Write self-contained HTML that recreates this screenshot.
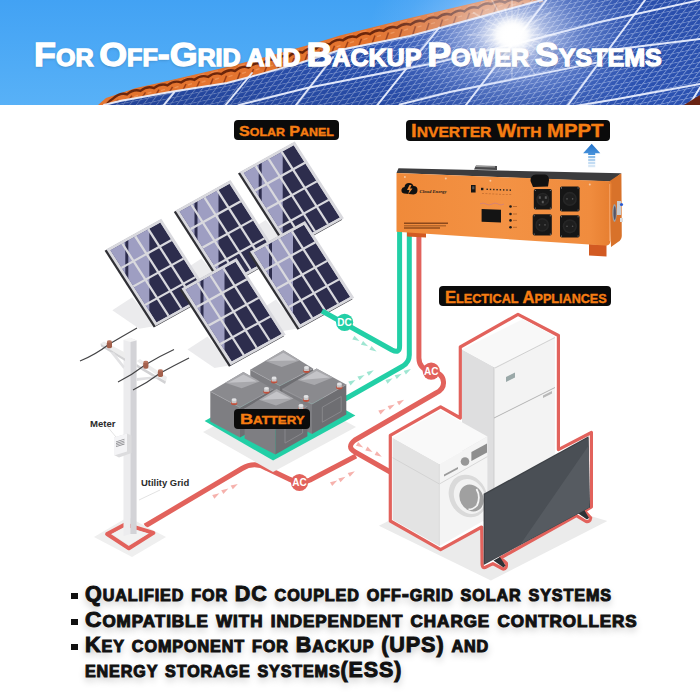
<!DOCTYPE html>
<html><head><meta charset="utf-8">
<style>
html,body{margin:0;padding:0;background:#fff;}
body{width:700px;height:700px;position:relative;overflow:hidden;font-family:"Liberation Sans",sans-serif;}
svg{position:absolute;left:0;top:0;}
.tx{position:absolute;white-space:nowrap;font-weight:bold;transform-origin:0 0;font-family:"Liberation Sans",sans-serif;}
.ti{text-shadow:0 1px 3px rgba(0,0,0,.25);}
.bt{text-shadow:0 4px 7px rgba(0,0,0,.26);}
.box{position:absolute;background:#0b0b0b;border-radius:4px;}
.sq{position:absolute;background:#111;}
.sc{text-transform:uppercase;}
</style></head>
<body>
<svg width="700" height="700" viewBox="0 0 700 700">
<defs>
 <linearGradient id="sky" x1="0" y1="0" x2="0" y2="1">
  <stop offset="0" stop-color="#42a2f4"/><stop offset="1" stop-color="#58b1f7"/>
 </linearGradient>
 <radialGradient id="sun" cx="512" cy="35" r="125" gradientUnits="userSpaceOnUse" gradientTransform="translate(512 35) scale(1.15 0.8) translate(-512 -35)">
  <stop offset="0" stop-color="#ffffff" stop-opacity="1"/>
  <stop offset="0.1" stop-color="#ffffff" stop-opacity="0.95"/>
  <stop offset="0.25" stop-color="#eef2ff" stop-opacity="0.6"/>
  <stop offset="0.5" stop-color="#d4e0ff" stop-opacity="0.28"/>
  <stop offset="0.75" stop-color="#c8d8ff" stop-opacity="0.1"/>
  <stop offset="1" stop-color="#c8d8ff" stop-opacity="0"/>
 </radialGradient>
 <linearGradient id="pshade" x1="0" y1="1" x2="1" y2="0">
  <stop offset="0" stop-color="#0a1a50" stop-opacity="0.35"/>
  <stop offset="0.5" stop-color="#0a1a50" stop-opacity="0.1"/>
  <stop offset="1" stop-color="#0a1a50" stop-opacity="0.15"/>
 </linearGradient>
 <pattern id="cells" width="10" height="10" patternUnits="userSpaceOnUse" patternTransform="matrix(0.8 -0.17 -0.43 0.57 0 0)">
  <rect width="10" height="10" fill="#86a2e2"/>
  <rect x="1.6" y="1.6" width="8.4" height="8.4" fill="#2f58bc"/>
 </pattern>
 <linearGradient id="invfront" x1="0" y1="0" x2="1" y2="0">
  <stop offset="0" stop-color="#f08a3a"/><stop offset="0.5" stop-color="#f39244"/><stop offset="0.9" stop-color="#f08c3e"/><stop offset="1" stop-color="#e67e30"/>
 </linearGradient>
 <linearGradient id="invside" x1="0" y1="0" x2="1" y2="0">
  <stop offset="0" stop-color="#e27a30"/><stop offset="1" stop-color="#d86e28"/>
 </linearGradient>
 <linearGradient id="barrow" x1="0" y1="0" x2="0" y2="1">
  <stop offset="0" stop-color="#1f6fc8"/><stop offset="1" stop-color="#4b95dc"/>
 </linearGradient>
 <radialGradient id="suncore">
  <stop offset="0" stop-color="#fff" stop-opacity="1"/><stop offset="0.45" stop-color="#fff" stop-opacity="0.95"/><stop offset="1" stop-color="#fff" stop-opacity="0"/>
 </radialGradient>
</defs>
<clipPath id="bclip"><rect x="0" y="0" width="700" height="105"/></clipPath>
<g clip-path="url(#bclip)">
<rect x="0" y="0" width="700" height="105" fill="url(#sky)"/>
<polygon points="104.0,105.0 120.0,101.0 170.0,92.0 227.0,83.0 250.0,77.0 300.0,63.0 340.0,50.0 410.0,36.0 440.0,28.0 480.0,17.0 542.0,0.0 700.0,0.0 700.0,105.0" fill="#2850b0"/>
<polygon points="104.0,105.0 120.0,101.0 170.0,92.0 227.0,83.0 250.0,77.0 300.0,63.0 340.0,50.0 410.0,36.0 440.0,28.0 480.0,17.0 542.0,0.0 700.0,0.0 700.0,105.0" fill="url(#cells)"/>
<polygon points="104.0,105.0 120.0,101.0 170.0,92.0 227.0,83.0 250.0,77.0 300.0,63.0 340.0,50.0 410.0,36.0 440.0,28.0 480.0,17.0 542.0,0.0 700.0,0.0 700.0,105.0" fill="url(#pshade)"/>
<polygon points="98.0,105.0 106.0,98.0 136.0,88.0 158.6,83.0 193.0,75.0 227.0,67.0 250.0,61.0 271.0,55.5 314.0,43.5 340.0,35.5 410.0,18.0 480.0,1.5 490.0,-1.0 542.0,0.0 480.0,17.0 440.0,28.0 410.0,36.0 340.0,50.0 300.0,63.0 250.0,77.0 227.0,83.0 170.0,92.0 120.0,101.0 104.0,105.0" fill="#e4742f"/>
<line x1="105.0" y1="115.1" x2="102.0" y2="130.3" stroke="#8a3212" stroke-width="1.5" opacity="0.8"/>
<line x1="107.0" y1="116.1" x2="111.0" y2="114.8" stroke="#f39a5e" stroke-width="1.4" opacity="0.75"/>
<line x1="103.0" y1="104.5" x2="110.0" y2="102.5" stroke="#f0905a" stroke-width="1.2" opacity="0.7"/>
<line x1="118.5" y1="99.7" x2="115.5" y2="102.3" stroke="#8a3212" stroke-width="1.5" opacity="0.8"/>
<line x1="120.5" y1="100.7" x2="124.5" y2="99.4" stroke="#f39a5e" stroke-width="1.4" opacity="0.75"/>
<line x1="116.5" y1="96.7" x2="123.5" y2="94.7" stroke="#f0905a" stroke-width="1.2" opacity="0.7"/>
<line x1="132.0" y1="95.8" x2="129.0" y2="99.4" stroke="#8a3212" stroke-width="1.5" opacity="0.8"/>
<line x1="134.0" y1="96.8" x2="138.0" y2="95.5" stroke="#f39a5e" stroke-width="1.4" opacity="0.75"/>
<line x1="130.0" y1="92.2" x2="137.0" y2="90.2" stroke="#f0905a" stroke-width="1.2" opacity="0.7"/>
<line x1="145.5" y1="92.4" x2="142.5" y2="97.0" stroke="#8a3212" stroke-width="1.5" opacity="0.8"/>
<line x1="147.5" y1="93.4" x2="151.5" y2="92.1" stroke="#f39a5e" stroke-width="1.4" opacity="0.75"/>
<line x1="143.5" y1="88.2" x2="150.5" y2="86.2" stroke="#f0905a" stroke-width="1.2" opacity="0.7"/>
<line x1="159.0" y1="89.6" x2="156.0" y2="94.6" stroke="#8a3212" stroke-width="1.5" opacity="0.8"/>
<line x1="161.0" y1="90.6" x2="165.0" y2="89.3" stroke="#f39a5e" stroke-width="1.4" opacity="0.75"/>
<line x1="157.0" y1="85.2" x2="164.0" y2="83.2" stroke="#f0905a" stroke-width="1.2" opacity="0.7"/>
<line x1="172.5" y1="86.8" x2="169.5" y2="92.2" stroke="#8a3212" stroke-width="1.5" opacity="0.8"/>
<line x1="174.5" y1="87.8" x2="178.5" y2="86.5" stroke="#f39a5e" stroke-width="1.4" opacity="0.75"/>
<line x1="170.5" y1="82.1" x2="177.5" y2="80.1" stroke="#f0905a" stroke-width="1.2" opacity="0.7"/>
<line x1="186.0" y1="84.0" x2="183.0" y2="90.0" stroke="#8a3212" stroke-width="1.5" opacity="0.8"/>
<line x1="188.0" y1="85.0" x2="192.0" y2="83.7" stroke="#f39a5e" stroke-width="1.4" opacity="0.75"/>
<line x1="184.0" y1="79.0" x2="191.0" y2="77.0" stroke="#f0905a" stroke-width="1.2" opacity="0.7"/>
<line x1="199.5" y1="81.3" x2="196.5" y2="87.8" stroke="#8a3212" stroke-width="1.5" opacity="0.8"/>
<line x1="201.5" y1="82.3" x2="205.5" y2="81.0" stroke="#f39a5e" stroke-width="1.4" opacity="0.75"/>
<line x1="197.5" y1="75.8" x2="204.5" y2="73.8" stroke="#f0905a" stroke-width="1.2" opacity="0.7"/>
<line x1="213.0" y1="78.5" x2="210.0" y2="85.7" stroke="#8a3212" stroke-width="1.5" opacity="0.8"/>
<line x1="215.0" y1="79.5" x2="219.0" y2="78.2" stroke="#f39a5e" stroke-width="1.4" opacity="0.75"/>
<line x1="211.0" y1="72.7" x2="218.0" y2="70.7" stroke="#f0905a" stroke-width="1.2" opacity="0.7"/>
<line x1="226.5" y1="75.7" x2="223.5" y2="83.6" stroke="#8a3212" stroke-width="1.5" opacity="0.8"/>
<line x1="228.5" y1="76.7" x2="232.5" y2="75.4" stroke="#f39a5e" stroke-width="1.4" opacity="0.75"/>
<line x1="224.5" y1="69.5" x2="231.5" y2="67.5" stroke="#f0905a" stroke-width="1.2" opacity="0.7"/>
<line x1="240.0" y1="72.5" x2="237.0" y2="80.6" stroke="#8a3212" stroke-width="1.5" opacity="0.8"/>
<line x1="242.0" y1="73.5" x2="246.0" y2="72.2" stroke="#f39a5e" stroke-width="1.4" opacity="0.75"/>
<line x1="238.0" y1="66.1" x2="245.0" y2="64.1" stroke="#f0905a" stroke-width="1.2" opacity="0.7"/>
<line x1="253.5" y1="69.0" x2="250.5" y2="77.1" stroke="#8a3212" stroke-width="1.5" opacity="0.8"/>
<line x1="255.5" y1="70.0" x2="259.5" y2="68.7" stroke="#f39a5e" stroke-width="1.4" opacity="0.75"/>
<line x1="251.5" y1="62.6" x2="258.5" y2="60.6" stroke="#f0905a" stroke-width="1.2" opacity="0.7"/>
<line x1="267.0" y1="65.4" x2="264.0" y2="73.3" stroke="#8a3212" stroke-width="1.5" opacity="0.8"/>
<line x1="269.0" y1="66.4" x2="273.0" y2="65.1" stroke="#f39a5e" stroke-width="1.4" opacity="0.75"/>
<line x1="265.0" y1="59.1" x2="272.0" y2="57.1" stroke="#f0905a" stroke-width="1.2" opacity="0.7"/>
<line x1="280.5" y1="61.7" x2="277.5" y2="69.6" stroke="#8a3212" stroke-width="1.5" opacity="0.8"/>
<line x1="282.5" y1="62.7" x2="286.5" y2="61.4" stroke="#f39a5e" stroke-width="1.4" opacity="0.75"/>
<line x1="278.5" y1="55.4" x2="285.5" y2="53.4" stroke="#f0905a" stroke-width="1.2" opacity="0.7"/>
<line x1="294.0" y1="57.9" x2="291.0" y2="65.8" stroke="#8a3212" stroke-width="1.5" opacity="0.8"/>
<line x1="296.0" y1="58.9" x2="300.0" y2="57.6" stroke="#f39a5e" stroke-width="1.4" opacity="0.75"/>
<line x1="292.0" y1="51.7" x2="299.0" y2="49.7" stroke="#f0905a" stroke-width="1.2" opacity="0.7"/>
<line x1="307.5" y1="54.1" x2="304.5" y2="61.9" stroke="#8a3212" stroke-width="1.5" opacity="0.8"/>
<line x1="309.5" y1="55.1" x2="313.5" y2="53.8" stroke="#f39a5e" stroke-width="1.4" opacity="0.75"/>
<line x1="305.5" y1="47.9" x2="312.5" y2="45.9" stroke="#f0905a" stroke-width="1.2" opacity="0.7"/>
<line x1="321.0" y1="50.1" x2="318.0" y2="57.5" stroke="#8a3212" stroke-width="1.5" opacity="0.8"/>
<line x1="323.0" y1="51.1" x2="327.0" y2="49.8" stroke="#f39a5e" stroke-width="1.4" opacity="0.75"/>
<line x1="319.0" y1="44.1" x2="326.0" y2="42.1" stroke="#f0905a" stroke-width="1.2" opacity="0.7"/>
<line x1="334.5" y1="45.8" x2="331.5" y2="53.1" stroke="#8a3212" stroke-width="1.5" opacity="0.8"/>
<line x1="336.5" y1="46.8" x2="340.5" y2="45.5" stroke="#f39a5e" stroke-width="1.4" opacity="0.75"/>
<line x1="332.5" y1="39.9" x2="339.5" y2="37.9" stroke="#f0905a" stroke-width="1.2" opacity="0.7"/>
<line x1="348.0" y1="41.8" x2="345.0" y2="49.1" stroke="#8a3212" stroke-width="1.5" opacity="0.8"/>
<line x1="350.0" y1="42.8" x2="354.0" y2="41.5" stroke="#f39a5e" stroke-width="1.4" opacity="0.75"/>
<line x1="346.0" y1="36.0" x2="353.0" y2="34.0" stroke="#f0905a" stroke-width="1.2" opacity="0.7"/>
<line x1="361.5" y1="38.7" x2="358.5" y2="46.4" stroke="#8a3212" stroke-width="1.5" opacity="0.8"/>
<line x1="363.5" y1="39.7" x2="367.5" y2="38.4" stroke="#f39a5e" stroke-width="1.4" opacity="0.75"/>
<line x1="359.5" y1="32.6" x2="366.5" y2="30.6" stroke="#f0905a" stroke-width="1.2" opacity="0.7"/>
<line x1="375.0" y1="35.6" x2="372.0" y2="43.7" stroke="#8a3212" stroke-width="1.5" opacity="0.8"/>
<line x1="377.0" y1="36.6" x2="381.0" y2="35.3" stroke="#f39a5e" stroke-width="1.4" opacity="0.75"/>
<line x1="373.0" y1="29.2" x2="380.0" y2="27.2" stroke="#f0905a" stroke-width="1.2" opacity="0.7"/>
<line x1="388.5" y1="32.5" x2="385.5" y2="41.0" stroke="#8a3212" stroke-width="1.5" opacity="0.8"/>
<line x1="390.5" y1="33.5" x2="394.5" y2="32.2" stroke="#f39a5e" stroke-width="1.4" opacity="0.75"/>
<line x1="386.5" y1="25.8" x2="393.5" y2="23.8" stroke="#f0905a" stroke-width="1.2" opacity="0.7"/>
<line x1="402.0" y1="29.3" x2="399.0" y2="38.3" stroke="#8a3212" stroke-width="1.5" opacity="0.8"/>
<line x1="404.0" y1="30.3" x2="408.0" y2="29.0" stroke="#f39a5e" stroke-width="1.4" opacity="0.75"/>
<line x1="400.0" y1="22.4" x2="407.0" y2="20.4" stroke="#f0905a" stroke-width="1.2" opacity="0.7"/>
<line x1="415.5" y1="26.2" x2="412.5" y2="35.6" stroke="#8a3212" stroke-width="1.5" opacity="0.8"/>
<line x1="417.5" y1="27.2" x2="421.5" y2="25.9" stroke="#f39a5e" stroke-width="1.4" opacity="0.75"/>
<line x1="413.5" y1="19.1" x2="420.5" y2="17.1" stroke="#f0905a" stroke-width="1.2" opacity="0.7"/>
<line x1="429.0" y1="22.9" x2="426.0" y2="32.0" stroke="#8a3212" stroke-width="1.5" opacity="0.8"/>
<line x1="431.0" y1="23.9" x2="435.0" y2="22.6" stroke="#f39a5e" stroke-width="1.4" opacity="0.75"/>
<line x1="427.0" y1="15.9" x2="434.0" y2="13.9" stroke="#f0905a" stroke-width="1.2" opacity="0.7"/>
<line x1="442.5" y1="19.5" x2="439.5" y2="28.4" stroke="#8a3212" stroke-width="1.5" opacity="0.8"/>
<line x1="444.5" y1="20.5" x2="448.5" y2="19.2" stroke="#f39a5e" stroke-width="1.4" opacity="0.75"/>
<line x1="440.5" y1="12.7" x2="447.5" y2="10.7" stroke="#f0905a" stroke-width="1.2" opacity="0.7"/>
<line x1="456.0" y1="16.2" x2="453.0" y2="24.7" stroke="#8a3212" stroke-width="1.5" opacity="0.8"/>
<line x1="458.0" y1="17.2" x2="462.0" y2="15.9" stroke="#f39a5e" stroke-width="1.4" opacity="0.75"/>
<line x1="454.0" y1="9.5" x2="461.0" y2="7.5" stroke="#f0905a" stroke-width="1.2" opacity="0.7"/>
<line x1="469.5" y1="12.8" x2="466.5" y2="21.0" stroke="#8a3212" stroke-width="1.5" opacity="0.8"/>
<line x1="471.5" y1="13.8" x2="475.5" y2="12.5" stroke="#f39a5e" stroke-width="1.4" opacity="0.75"/>
<line x1="467.5" y1="6.4" x2="474.5" y2="4.4" stroke="#f0905a" stroke-width="1.2" opacity="0.7"/>
<line x1="483.0" y1="9.4" x2="480.0" y2="17.2" stroke="#8a3212" stroke-width="1.5" opacity="0.8"/>
<line x1="485.0" y1="10.4" x2="489.0" y2="9.1" stroke="#f39a5e" stroke-width="1.4" opacity="0.75"/>
<line x1="481.0" y1="3.2" x2="488.0" y2="1.2" stroke="#f0905a" stroke-width="1.2" opacity="0.7"/>
<line x1="496.5" y1="5.5" x2="493.5" y2="13.5" stroke="#8a3212" stroke-width="1.5" opacity="0.8"/>
<line x1="498.5" y1="6.5" x2="502.5" y2="5.2" stroke="#f39a5e" stroke-width="1.4" opacity="0.75"/>
<line x1="494.5" y1="-0.8" x2="501.5" y2="-2.8" stroke="#f0905a" stroke-width="1.2" opacity="0.7"/>
<line x1="510.0" y1="4.1" x2="507.0" y2="9.8" stroke="#8a3212" stroke-width="1.5" opacity="0.8"/>
<line x1="512.0" y1="5.1" x2="516.0" y2="3.8" stroke="#f39a5e" stroke-width="1.4" opacity="0.75"/>
<line x1="508.0" y1="-0.8" x2="515.0" y2="-2.8" stroke="#f0905a" stroke-width="1.2" opacity="0.7"/>
<line x1="523.5" y1="2.7" x2="520.5" y2="6.1" stroke="#8a3212" stroke-width="1.5" opacity="0.8"/>
<line x1="525.5" y1="3.7" x2="529.5" y2="2.4" stroke="#f39a5e" stroke-width="1.4" opacity="0.75"/>
<line x1="521.5" y1="-0.8" x2="528.5" y2="-2.8" stroke="#f0905a" stroke-width="1.2" opacity="0.7"/>
<line x1="537.0" y1="1.3" x2="534.0" y2="2.4" stroke="#8a3212" stroke-width="1.5" opacity="0.8"/>
<line x1="539.0" y1="2.3" x2="543.0" y2="1.0" stroke="#f39a5e" stroke-width="1.4" opacity="0.75"/>
<line x1="535.0" y1="-0.8" x2="542.0" y2="-2.8" stroke="#f0905a" stroke-width="1.2" opacity="0.7"/>
<path d="M100.0,113.6 Q106.8,101.9 113.5,98.2 Q120.2,92.3 127.0,94.3 Q133.8,88.6 140.5,90.9 Q147.2,85.5 154.0,88.1 Q160.8,82.7 167.5,85.3 Q174.2,79.9 181.0,82.5 Q187.8,77.2 194.5,79.8 Q201.2,74.4 208.0,77.0 Q214.8,71.6 221.5,74.2 Q228.2,68.6 235.0,71.0 Q241.8,65.2 248.5,67.5 Q255.2,61.7 262.0,63.9 Q268.8,58.0 275.5,60.2 Q282.2,54.3 289.0,56.4 Q295.8,50.5 302.5,52.6 Q309.2,46.6 316.0,48.6 Q322.8,42.4 329.5,44.3 Q336.2,38.3 343.0,40.3 Q349.8,34.8 356.5,37.2 Q363.2,31.6 370.0,34.1 Q376.8,28.5 383.5,31.0 Q390.2,25.4 397.0,27.8 Q403.8,22.3 410.5,24.7 Q417.2,19.0 424.0,21.4 Q430.8,15.7 437.5,18.0 Q444.2,12.3 451.0,14.7 Q457.8,9.0 464.5,11.3 Q471.2,5.6 478.0,7.9 Q484.8,2.0 491.5,4.0 Q498.2,-0.7 505.0,2.6 Q511.8,-2.1 518.5,1.2 Q525.2,-3.5 532.0,-0.2" fill="none" stroke="#5e1e08" stroke-width="2.4" opacity="0.9"/>
<polyline points="104.0,105.0 120.0,101.0 170.0,92.0 227.0,83.0 250.0,77.0 300.0,63.0 340.0,50.0 410.0,36.0 440.0,28.0 480.0,17.0 542.0,0.0" stroke="#eef2ff" stroke-width="1.9" fill="none" stroke-linecap="round" opacity="0.92"/>
<polyline points="239.0,105.0 306.9,88.0 434.9,63.0 531.4,40.0 600.0,22.0 700.0,0.0" stroke="#eef2ff" stroke-width="1.9" fill="none" stroke-linecap="round" opacity="0.92"/>
<polyline points="400.0,104.5 450.0,92.0 600.0,62.0" stroke="#eef2ff" stroke-width="1.9" fill="none" stroke-linecap="round" opacity="0.92"/>
<polyline points="606.0,50.5 700.0,39.0" stroke="#eef2ff" stroke-width="1.9" fill="none" stroke-linecap="round" opacity="0.92"/>
<polyline points="575.0,106.0 620.0,98.5 700.0,84.0" stroke="#eef2ff" stroke-width="1.9" fill="none" stroke-linecap="round" opacity="0.92"/>
<polyline points="163.7,105.3 174.0,92.7" stroke="#eef2ff" stroke-width="1.9" fill="none" stroke-linecap="round" opacity="0.92"/>
<polyline points="225.4,105.3 252.0,73.0" stroke="#eef2ff" stroke-width="1.9" fill="none" stroke-linecap="round" opacity="0.92"/>
<polyline points="296.0,105.0 333.0,57.0" stroke="#eef2ff" stroke-width="1.9" fill="none" stroke-linecap="round" opacity="0.92"/>
<polyline points="375.4,107.4 439.4,27.4" stroke="#eef2ff" stroke-width="1.9" fill="none" stroke-linecap="round" opacity="0.92"/>
<polyline points="466.0,105.0 546.4,0.0" stroke="#eef2ff" stroke-width="1.9" fill="none" stroke-linecap="round" opacity="0.92"/>
<polyline points="568.0,105.0 645.0,0.0" stroke="#eef2ff" stroke-width="1.9" fill="none" stroke-linecap="round" opacity="0.92"/>
<polyline points="689.7,104.6 700.0,87.4" stroke="#eef2ff" stroke-width="1.9" fill="none" stroke-linecap="round" opacity="0.92"/>
<rect x="300" y="0" width="400" height="105" fill="url(#sun)"/>
<line x1="512" y1="35" x2="557.0" y2="35.0" stroke="#fff" stroke-width="1.5" opacity="0.3"/>
<line x1="512" y1="35" x2="539.0" y2="42.2" stroke="#fff" stroke-width="1.5" opacity="0.3"/>
<line x1="512" y1="35" x2="551.0" y2="57.5" stroke="#fff" stroke-width="1.5" opacity="0.3"/>
<line x1="512" y1="35" x2="531.8" y2="54.8" stroke="#fff" stroke-width="1.5" opacity="0.3"/>
<line x1="512" y1="35" x2="534.5" y2="74.0" stroke="#fff" stroke-width="1.5" opacity="0.3"/>
<line x1="512" y1="35" x2="519.2" y2="62.0" stroke="#fff" stroke-width="1.5" opacity="0.3"/>
<line x1="512" y1="35" x2="512.0" y2="80.0" stroke="#fff" stroke-width="1.5" opacity="0.3"/>
<line x1="512" y1="35" x2="504.8" y2="62.0" stroke="#fff" stroke-width="1.5" opacity="0.3"/>
<line x1="512" y1="35" x2="489.5" y2="74.0" stroke="#fff" stroke-width="1.5" opacity="0.3"/>
<line x1="512" y1="35" x2="492.2" y2="54.8" stroke="#fff" stroke-width="1.5" opacity="0.3"/>
<line x1="512" y1="35" x2="473.0" y2="57.5" stroke="#fff" stroke-width="1.5" opacity="0.3"/>
<line x1="512" y1="35" x2="485.0" y2="42.2" stroke="#fff" stroke-width="1.5" opacity="0.3"/>
<line x1="512" y1="35" x2="467.0" y2="35.0" stroke="#fff" stroke-width="1.5" opacity="0.3"/>
<line x1="512" y1="35" x2="485.0" y2="27.8" stroke="#fff" stroke-width="1.5" opacity="0.3"/>
<line x1="512" y1="35" x2="473.0" y2="12.5" stroke="#fff" stroke-width="1.5" opacity="0.3"/>
<line x1="512" y1="35" x2="492.2" y2="15.2" stroke="#fff" stroke-width="1.5" opacity="0.3"/>
<line x1="512" y1="35" x2="489.5" y2="-4.0" stroke="#fff" stroke-width="1.5" opacity="0.3"/>
<line x1="512" y1="35" x2="504.8" y2="8.0" stroke="#fff" stroke-width="1.5" opacity="0.3"/>
<line x1="512" y1="35" x2="512.0" y2="-10.0" stroke="#fff" stroke-width="1.5" opacity="0.3"/>
<line x1="512" y1="35" x2="519.2" y2="8.0" stroke="#fff" stroke-width="1.5" opacity="0.3"/>
<line x1="512" y1="35" x2="534.5" y2="-4.0" stroke="#fff" stroke-width="1.5" opacity="0.3"/>
<line x1="512" y1="35" x2="531.8" y2="15.2" stroke="#fff" stroke-width="1.5" opacity="0.3"/>
<line x1="512" y1="35" x2="551.0" y2="12.5" stroke="#fff" stroke-width="1.5" opacity="0.3"/>
<line x1="512" y1="35" x2="539.0" y2="27.8" stroke="#fff" stroke-width="1.5" opacity="0.3"/>
<circle cx="512" cy="35" r="20" fill="url(#suncore)"/>
<polygon points="684,105 700,95 700,105" fill="#6a2414"/>
</g>
<polygon points="265.7,220.0 288.9,248.8 272.7,251.5 245.7,233.0" fill="#ebebed"/>
<polygon points="201.5,258.5 224.7,287.3 208.5,290.0 181.5,271.5" fill="#ebebed"/>
<polygon points="132.3,297.3 155.5,326.1 139.3,328.8 112.3,310.3" fill="#ebebed"/>
<polygon points="276.0,299.5 299.2,328.3 283.0,331.0 256.0,312.5" fill="#ebebed"/>
<polygon points="207.5,336.5 230.7,365.3 214.5,368.0 187.5,349.5" fill="#ebebed"/>
<polygon points="238.0,173.5 293.0,143.0 342.2,219.8 287.2,250.3" fill="#303036"/>
<polygon points="239.7,172.0 294.7,141.5 343.9,218.3 288.9,248.8" fill="#d9d9de"/>
<clipPath id="pc0"><polygon points="243.7,172.9 293.7,145.2 339.9,217.4 289.9,245.1"/></clipPath>
<g clip-path="url(#pc0)">
<polygon points="243.7,172.9 293.7,145.2 339.9,217.4 289.9,245.1" fill="#2d2d4d"/>
<rect x="229.7" y="132.0" width="53.0" height="140" fill="#9e9ec2"/>
<rect x="258.7" y="132.0" width="3" height="72.0" fill="#2d2d4d"/>
</g>
<polygon points="254.7,166.8 256.7,165.7 302.9,237.9 300.9,239.0" fill="#d9d9de"/>
<polygon points="267.7,159.6 269.7,158.5 315.9,230.7 313.9,231.8" fill="#d9d9de"/>
<polygon points="280.7,152.4 282.7,151.3 328.9,223.5 326.9,224.6" fill="#d9d9de"/>
<polygon points="254.3,189.6 304.4,161.8 305.6,163.7 255.5,191.4" fill="#d9d9de"/>
<polygon points="266.2,208.1 316.2,180.4 317.4,182.2 267.4,209.9" fill="#d9d9de"/>
<polygon points="278.0,226.6 328.1,198.9 329.3,200.7 279.2,228.5" fill="#d9d9de"/>
<polygon points="173.8,212.0 228.8,181.5 278.0,258.3 223.0,288.8" fill="#303036"/>
<polygon points="175.5,210.5 230.5,180.0 279.7,256.8 224.7,287.3" fill="#d9d9de"/>
<clipPath id="pc1"><polygon points="179.5,211.4 229.5,183.7 275.7,255.9 225.7,283.6"/></clipPath>
<g clip-path="url(#pc1)">
<polygon points="179.5,211.4 229.5,183.7 275.7,255.9 225.7,283.6" fill="#2d2d4d"/>
<rect x="165.5" y="170.5" width="53.0" height="140" fill="#9e9ec2"/>
<rect x="194.5" y="170.5" width="3" height="72.0" fill="#2d2d4d"/>
</g>
<polygon points="190.5,205.3 192.5,204.2 238.7,276.4 236.7,277.5" fill="#d9d9de"/>
<polygon points="203.5,198.1 205.5,197.0 251.7,269.2 249.7,270.3" fill="#d9d9de"/>
<polygon points="216.5,190.9 218.5,189.8 264.7,262.0 262.7,263.1" fill="#d9d9de"/>
<polygon points="190.1,228.1 240.2,200.3 241.4,202.2 191.3,229.9" fill="#d9d9de"/>
<polygon points="202.0,246.6 252.0,218.9 253.2,220.7 203.2,248.4" fill="#d9d9de"/>
<polygon points="213.8,265.1 263.9,237.4 265.1,239.2 215.0,267.0" fill="#d9d9de"/>
<polygon points="104.6,250.8 159.6,220.3 208.8,297.1 153.8,327.6" fill="#303036"/>
<polygon points="106.3,249.3 161.3,218.8 210.5,295.6 155.5,326.1" fill="#d9d9de"/>
<clipPath id="pc2"><polygon points="110.3,250.2 160.3,222.5 206.5,294.7 156.5,322.4"/></clipPath>
<g clip-path="url(#pc2)">
<polygon points="110.3,250.2 160.3,222.5 206.5,294.7 156.5,322.4" fill="#2d2d4d"/>
<rect x="96.3" y="209.3" width="53.0" height="140" fill="#9e9ec2"/>
<rect x="125.3" y="209.3" width="3" height="72.0" fill="#2d2d4d"/>
</g>
<polygon points="121.3,244.1 123.3,243.0 169.5,315.2 167.5,316.3" fill="#d9d9de"/>
<polygon points="134.3,236.9 136.3,235.8 182.5,308.0 180.5,309.1" fill="#d9d9de"/>
<polygon points="147.3,229.7 149.3,228.6 195.5,300.8 193.5,301.9" fill="#d9d9de"/>
<polygon points="120.9,266.9 171.0,239.1 172.2,241.0 122.1,268.7" fill="#d9d9de"/>
<polygon points="132.8,285.4 182.8,257.7 184.0,259.5 134.0,287.2" fill="#d9d9de"/>
<polygon points="144.6,303.9 194.7,276.2 195.9,278.0 145.8,305.8" fill="#d9d9de"/>
<polygon points="248.3,253.0 303.3,222.5 352.5,299.3 297.5,329.8" fill="#303036"/>
<polygon points="250.0,251.5 305.0,221.0 354.2,297.8 299.2,328.3" fill="#d9d9de"/>
<clipPath id="pc3"><polygon points="254.0,252.4 304.0,224.7 350.2,296.9 300.2,324.6"/></clipPath>
<g clip-path="url(#pc3)">
<polygon points="254.0,252.4 304.0,224.7 350.2,296.9 300.2,324.6" fill="#2d2d4d"/>
<rect x="240.0" y="211.5" width="53.0" height="140" fill="#9e9ec2"/>
<rect x="269.0" y="211.5" width="3" height="72.0" fill="#2d2d4d"/>
</g>
<polygon points="265.0,246.3 267.0,245.2 313.2,317.4 311.2,318.5" fill="#d9d9de"/>
<polygon points="278.0,239.1 280.0,238.0 326.2,310.2 324.2,311.3" fill="#d9d9de"/>
<polygon points="291.0,231.9 293.0,230.8 339.2,303.0 337.2,304.1" fill="#d9d9de"/>
<polygon points="264.6,269.1 314.7,241.3 315.9,243.2 265.8,270.9" fill="#d9d9de"/>
<polygon points="276.5,287.6 326.5,259.9 327.7,261.7 277.7,289.4" fill="#d9d9de"/>
<polygon points="288.3,306.1 338.4,278.4 339.6,280.2 289.5,308.0" fill="#d9d9de"/>
<polygon points="179.8,290.0 234.8,259.5 284.0,336.3 229.0,366.8" fill="#303036"/>
<polygon points="181.5,288.5 236.5,258.0 285.7,334.8 230.7,365.3" fill="#d9d9de"/>
<clipPath id="pc4"><polygon points="185.5,289.4 235.5,261.7 281.7,333.9 231.7,361.6"/></clipPath>
<g clip-path="url(#pc4)">
<polygon points="185.5,289.4 235.5,261.7 281.7,333.9 231.7,361.6" fill="#2d2d4d"/>
<rect x="171.5" y="248.5" width="53.0" height="140" fill="#9e9ec2"/>
<rect x="200.5" y="248.5" width="3" height="72.0" fill="#2d2d4d"/>
</g>
<polygon points="196.5,283.3 198.5,282.2 244.7,354.4 242.7,355.5" fill="#d9d9de"/>
<polygon points="209.5,276.1 211.5,275.0 257.7,347.2 255.7,348.3" fill="#d9d9de"/>
<polygon points="222.5,268.9 224.5,267.8 270.7,340.0 268.7,341.1" fill="#d9d9de"/>
<polygon points="196.1,306.1 246.2,278.3 247.4,280.2 197.3,307.9" fill="#d9d9de"/>
<polygon points="208.0,324.6 258.0,296.9 259.2,298.7 209.2,326.4" fill="#d9d9de"/>
<polygon points="219.8,343.1 269.9,315.4 271.1,317.2 221.0,345.0" fill="#d9d9de"/>
<path d="M322,311 L392,350 Q399.6,354 399.6,346 L399.6,230" fill="none" stroke="#22cfa6" stroke-width="5" stroke-linejoin="round"/>
<path d="M345,399 L403,366 Q409.3,362 409.3,355 L409.3,230" fill="none" stroke="#22cfa6" stroke-width="5" stroke-linejoin="round"/>
<path d="M418.9,230 L418.9,358 Q419,369 431,371 Q443,373 443.5,382 Q444,389 436,393 L355,440 Q346,447 355,452 L392,473" fill="none" stroke="#e2625c" stroke-width="5" stroke-linejoin="round"/>
<path d="M145,526 L242,468.5 Q254.5,461 267,468.5 L289,479 Q299.5,485 310,480 L356,456" fill="none" stroke="#e2625c" stroke-width="5" stroke-linejoin="round"/>
<polygon points="359.5,341.1 352.3,339.5 354.5,335.7" fill="#9fe6d2"/>
<polygon points="368.1,346.3 360.9,344.7 363.1,340.9" fill="#9fe6d2"/>
<polygon points="376.6,351.4 369.4,349.8 371.6,346.0" fill="#9fe6d2"/>
<polygon points="355.5,380.0 350.5,385.4 348.3,381.6" fill="#9fe6d2"/>
<polygon points="364.6,374.9 359.6,380.3 357.4,376.5" fill="#9fe6d2"/>
<polygon points="373.8,370.3 368.8,375.7 366.6,371.9" fill="#9fe6d2"/>
<polygon points="392.6,378.3 387.6,383.7 385.4,379.9" fill="#9fe6d2"/>
<polygon points="401.8,373.7 396.8,379.1 394.6,375.3" fill="#9fe6d2"/>
<polygon points="410.9,369.1 405.9,374.5 403.7,370.7" fill="#9fe6d2"/>
<polygon points="219.4,493.3 214.4,498.7 212.2,494.9" fill="#f6b2ad"/>
<polygon points="228.4,488.6 223.4,494.0 221.2,490.2" fill="#f6b2ad"/>
<polygon points="237.8,483.9 232.8,489.3 230.6,485.5" fill="#f6b2ad"/>
<polygon points="337.2,480.6 332.2,486.0 330.0,482.2" fill="#f6b2ad"/>
<polygon points="345.5,476.8 340.5,482.2 338.3,478.4" fill="#f6b2ad"/>
<polygon points="354.9,471.3 349.9,476.7 347.7,472.9" fill="#f6b2ad"/>
<polygon points="385.5,409.0 380.5,414.4 378.3,410.6" fill="#f6b2ad"/>
<polygon points="394.8,404.4 389.8,409.8 387.6,406.0" fill="#f6b2ad"/>
<polygon points="404.1,399.8 399.1,405.2 396.9,401.4" fill="#f6b2ad"/>
<polygon points="363.2,447.4 356.0,445.8 358.2,442.0" fill="#f6b2ad"/>
<polygon points="372.5,452.0 365.3,450.4 367.5,446.6" fill="#f6b2ad"/>
<polygon points="381.8,456.7 374.6,455.1 376.8,451.3" fill="#f6b2ad"/>
<circle cx="344.6" cy="322.3" r="8.6" fill="#22cfa6"/>
<text x="344.6" y="325.90000000000003" font-family="Liberation Sans" font-weight="bold" font-size="10" fill="#fff" text-anchor="middle">DC</text>
<circle cx="431.2" cy="371.1" r="8.6" fill="#e2625c"/>
<text x="431.2" y="374.70000000000005" font-family="Liberation Sans" font-weight="bold" font-size="10" fill="#fff" text-anchor="middle">AC</text>
<circle cx="299.5" cy="482.5" r="8.6" fill="#e2625c"/>
<text x="299.5" y="486.1" font-family="Liberation Sans" font-weight="bold" font-size="10" fill="#fff" text-anchor="middle">AC</text>
<polygon points="203,432 273,472 356,427 285,388" fill="#ececec"/>
<polygon points="204.6,421 285,376 355.4,415.4 273.1,460.5" fill="#22cfa6"/>
<polygon points="250.3,369.7 280.0,385.7 280.0,415.7 250.3,399.7" fill="#7e7e82"/>
<polygon points="280.0,385.7 313.1,368.6 313.1,398.6 280.0,415.7" fill="#6e6e72"/>
<polygon points="250.3,369.7 283.4,350.3 313.1,368.6 280.0,385.7" fill="#8a8a8e"/>
<polygon points="265.2,361.0 283.4,350.3 299.7,360.4 281.7,367.1" fill="#a8a8ac"/>
<polygon points="268.2,361.0 283.4,352.8 296.7,360.4" fill="#c4c4c8"/>
<polyline points="250.3,369.7 280.0,385.7 313.1,368.6" fill="none" stroke="#a2a2a6" stroke-width="0.7"/>
<polygon points="289.9,389.6 308.1,380.2 308.1,395.2 289.9,404.6" fill="none" stroke="#8e8e92" stroke-width="0.8"/>
<ellipse cx="274.1" cy="381.5" rx="3.2" ry="1.9" fill="#c0503c"/>
<rect x="271.7" y="378.0" width="4.8" height="3.5" fill="#c6c6c8"/>
<ellipse cx="274.1" cy="378.0" rx="2.4" ry="1.4" fill="#e2e2e4"/>
<ellipse cx="306.5" cy="371.0" rx="3.2" ry="1.9" fill="#c0503c"/>
<rect x="304.1" y="367.5" width="4.8" height="3.5" fill="#c6c6c8"/>
<ellipse cx="306.5" cy="367.5" rx="2.4" ry="1.4" fill="#e2e2e4"/>
<polygon points="210.3,391.4 240.0,407.4 240.0,437.4 210.3,421.4" fill="#7e7e82"/>
<polygon points="240.0,407.4 273.1,389.1 273.1,419.1 240.0,437.4" fill="#6e6e72"/>
<polygon points="210.3,391.4 243.4,372.0 273.1,389.1 240.0,407.4" fill="#8a8a8e"/>
<polygon points="225.2,382.7 243.4,372.0 259.7,381.4 241.7,388.2" fill="#a8a8ac"/>
<polygon points="228.2,382.7 243.4,374.5 256.7,381.4" fill="#c4c4c8"/>
<polyline points="210.3,391.4 240.0,407.4 273.1,389.1" fill="none" stroke="#a2a2a6" stroke-width="0.7"/>
<polygon points="249.9,410.9 268.1,400.8 268.1,415.8 249.9,425.9" fill="none" stroke="#8e8e92" stroke-width="0.8"/>
<ellipse cx="234.1" cy="403.2" rx="3.2" ry="1.9" fill="#c0503c"/>
<rect x="231.7" y="399.7" width="4.8" height="3.5" fill="#c6c6c8"/>
<ellipse cx="234.1" cy="399.7" rx="2.4" ry="1.4" fill="#e2e2e4"/>
<ellipse cx="266.5" cy="391.8" rx="3.2" ry="1.9" fill="#c0503c"/>
<rect x="264.1" y="388.3" width="4.8" height="3.5" fill="#c6c6c8"/>
<ellipse cx="266.5" cy="388.3" rx="2.4" ry="1.4" fill="#e2e2e4"/>
<polygon points="282.3,389.1 312.0,404.0 312.0,434.0 282.3,419.1" fill="#7e7e82"/>
<polygon points="312.0,404.0 346.3,384.6 346.3,414.6 312.0,434.0" fill="#6e6e72"/>
<polygon points="282.3,389.1 316.6,368.6 346.3,384.6 312.0,404.0" fill="#8a8a8e"/>
<polygon points="297.7,379.9 316.6,368.6 332.9,377.4 314.3,384.9" fill="#a8a8ac"/>
<polygon points="300.7,379.9 316.6,371.1 329.9,377.4" fill="#c4c4c8"/>
<polyline points="282.3,389.1 312.0,404.0 346.3,384.6" fill="none" stroke="#a2a2a6" stroke-width="0.7"/>
<polygon points="322.3,407.2 341.2,396.5 341.2,411.5 322.3,422.2" fill="none" stroke="#8e8e92" stroke-width="0.8"/>
<ellipse cx="306.1" cy="400.0" rx="3.2" ry="1.9" fill="#c0503c"/>
<rect x="303.7" y="396.5" width="4.8" height="3.5" fill="#c6c6c8"/>
<ellipse cx="306.1" cy="396.5" rx="2.4" ry="1.4" fill="#e2e2e4"/>
<ellipse cx="339.4" cy="387.5" rx="3.2" ry="1.9" fill="#c0503c"/>
<rect x="337.0" y="384.0" width="4.8" height="3.5" fill="#c6c6c8"/>
<ellipse cx="339.4" cy="384.0" rx="2.4" ry="1.4" fill="#e2e2e4"/>
<polygon points="244.6,408.6 275.4,424.6 275.4,454.6 244.6,438.6" fill="#7e7e82"/>
<polygon points="275.4,424.6 307.4,406.3 307.4,436.3 275.4,454.6" fill="#6e6e72"/>
<polygon points="244.6,408.6 276.6,389.1 307.4,406.3 275.4,424.6" fill="#8a8a8e"/>
<polygon points="259.0,399.8 276.6,389.1 293.5,398.6 276.0,405.5" fill="#a8a8ac"/>
<polygon points="262.0,399.8 276.6,391.6 290.5,398.6" fill="#c4c4c8"/>
<polyline points="244.6,408.6 275.4,424.6 307.4,406.3" fill="none" stroke="#a2a2a6" stroke-width="0.7"/>
<polygon points="285.0,428.1 302.6,418.0 302.6,433.0 285.0,443.1" fill="none" stroke="#8e8e92" stroke-width="0.8"/>
<ellipse cx="269.2" cy="420.4" rx="3.2" ry="1.9" fill="#c0503c"/>
<rect x="266.8" y="416.9" width="4.8" height="3.5" fill="#c6c6c8"/>
<ellipse cx="269.2" cy="416.9" rx="2.4" ry="1.4" fill="#e2e2e4"/>
<ellipse cx="301.0" cy="409.0" rx="3.2" ry="1.9" fill="#c0503c"/>
<rect x="298.6" y="405.5" width="4.8" height="3.5" fill="#c6c6c8"/>
<ellipse cx="301.0" cy="405.5" rx="2.4" ry="1.4" fill="#e2e2e4"/>
<polygon points="94,537 128,517 166,537 132,557" fill="#efefef"/>
<polygon points="107.1,534 125.4,524.3 153.4,532.9 128.9,548.3" fill="#ececec" stroke="#e2625c" stroke-width="4" stroke-linejoin="round"/>
<polygon points="112,534 125.4,527 148,533.5 129,545" fill="#f2f2f2"/>
<polygon points="123.5,340 130.4,338 130.4,534 123.5,536" fill="#ececee"/>
<polygon points="130.4,338 136.6,340.5 136.6,534 130.4,534" fill="#d3d3d7"/>
<polygon points="123.5,340 130,337.5 136.6,340.5 130.4,342" fill="#f6f6f6"/>
<polygon points="100.5,343.5 104,341.5 125,352.5 125,358.5" fill="#ededed"/>
<polygon points="100.5,343.5 125,358.5 125,361 101,346.5" fill="#d2d2d4"/>
<polygon points="110,352 114,352.5 124.5,366 123.5,369" fill="#e2e2e4"/>
<polygon points="136.6,361 140,359 167,377 166,381.5" fill="#ededed"/>
<polygon points="136.6,364 166,381.5 165,384 136.6,367" fill="#d2d2d4"/>
<polygon points="136.6,378 158,376 158.5,378 136.6,381" fill="#e0e0e2"/>
<path d="M80,361 Q95,355 109.4,344 Q123,336 137,328" fill="none" stroke="#444446" stroke-width="1.2"/>
<path d="M118,382 Q132,375 145.8,364.5 Q160,356 174,349.5" fill="none" stroke="#444446" stroke-width="1.2"/>
<path d="M133,390 Q147,383 160.4,373 Q175,365 189,358" fill="none" stroke="#444446" stroke-width="1.2"/>
<rect x="106.80000000000001" y="341.2" width="5.2" height="7" rx="1.8" fill="#a4604c"/>
<ellipse cx="109.4" cy="341.5" rx="2.4" ry="1.2" fill="#b87560"/>
<rect x="143.20000000000002" y="361.7" width="5.2" height="7" rx="1.8" fill="#a4604c"/>
<ellipse cx="145.8" cy="362.0" rx="2.4" ry="1.2" fill="#b87560"/>
<rect x="157.8" y="370.09999999999997" width="5.2" height="7" rx="1.8" fill="#a4604c"/>
<ellipse cx="160.4" cy="370.4" rx="2.4" ry="1.2" fill="#b87560"/>
<line x1="106" y1="425" x2="116" y2="437" stroke="#d0d0d0" stroke-width="0.6"/>
<polygon points="114,437.5 127,433.5 131.5,435.5 131.5,453 119,457.5 114,455" fill="#dcdcde"/>
<polygon points="114,437.5 127,433.5 127,451.5 114,455.5" fill="#f4f4f6"/>
<polygon points="116,441.5 124.5,438.8 124.5,439.6 116,442.3" fill="#8a8a8e"/>
<polygon points="116,443.1 124.5,440.4 124.5,441.2 116,443.9" fill="#8a8a8e"/>
<polygon points="116,444.7 124.5,442.0 124.5,442.8 116,445.5" fill="#8a8a8e"/>
<polygon points="116,446.3 124.5,443.6 124.5,444.4 116,447.1" fill="#8a8a8e"/>
<line x1="139" y1="500" x2="160" y2="490" stroke="#cfcfcf" stroke-width="0.6"/>
<polygon points="591.7,143.7 600.3,153.2 595.2,153.2 595.2,155 588.2,155 588.2,153.2 583.1,153.2" fill="url(#barrow)"/>
<rect x="588.2" y="156" width="7" height="2.2" fill="#6aa8e0" opacity="0.75"/>
<rect x="588.2" y="159" width="7" height="2.2" fill="#6aa8e0" opacity="0.55"/>
<rect x="588.2" y="162" width="7" height="2.2" fill="#6aa8e0" opacity="0.4"/>
<rect x="588.2" y="165" width="7" height="2.2" fill="#6aa8e0" opacity="0.28"/>
<polygon points="407,230 426,231.5 426,237.5 407,236.5" fill="#d25a22"/>
<polygon points="589,244 606.5,245 606.5,256.5 589,255.5" fill="#d25a22"/>
<polygon points="396.5,173 398.5,168.2 621.4,173.2 611,181.5" fill="#3c3c3e"/>
<polygon points="474,169.5 476,165.5 497,166 497,170" fill="#4a4a4c"/>
<polygon points="476,165.8 495,166.3 495,167.5 476,167" fill="#9a9a9a"/>
<path d="M609,181.5 L621.4,173.2 L621.8,236 Q621.5,240 618,242 L611,247 Z" fill="#d8722a"/>
<path d="M396.5,173 L610,181.3 Q612,182 611.5,186 L610.5,241 Q610,246 605,245.6 L396.5,231.8 Z" fill="url(#invfront)"/>
<path d="M609.6,184 L609.6,241" stroke="#f5a468" stroke-width="1.2" opacity="0.8"/>
<circle cx="404.9" cy="177.1" r="1" fill="#f6c8a0"/>
<circle cx="445.8" cy="178.6" r="1" fill="#f6c8a0"/>
<circle cx="490.4" cy="180.8" r="1" fill="#f6c8a0"/>
<circle cx="589.8" cy="184.6" r="1" fill="#f6c8a0"/>
<path d="M404,193.5 Q401,193 401.5,189.5 Q402,187 404.5,187 Q405,183 409,183 Q412.5,183 413.5,186 Q417.5,186 417.5,190 Q417.5,194 413.5,194.5 Z" fill="#111"/>
<polygon points="409.5,185 407,190 409.5,190 408,194.5 412.5,188.5 410,188.5 411.5,185" fill="#f08a36"/>
<text x="419.5" y="193" font-family="Liberation Serif" font-size="4.6" font-weight="bold" font-style="italic" fill="#1a1a1a" textLength="27" lengthAdjust="spacingAndGlyphs">Cloud Energy</text>
<rect x="471" y="185" width="4.6" height="7.5" fill="#151515"/>
<rect x="472.2" y="186.3" width="2.2" height="3" fill="#555"/>
<rect x="481" y="187.8" width="2.4" height="2.4" fill="#1a1a1a"/>
<rect x="486.5" y="188.60" width="1.4" height="1.4" fill="#222"/>
<rect x="489.8" y="188.72" width="1.4" height="1.4" fill="#222"/>
<rect x="493.1" y="188.84" width="1.4" height="1.4" fill="#222"/>
<rect x="496.4" y="188.96" width="1.4" height="1.4" fill="#222"/>
<rect x="499.7" y="189.08" width="1.4" height="1.4" fill="#222"/>
<rect x="503.0" y="189.20" width="1.4" height="1.4" fill="#222"/>
<rect x="506.3" y="189.32" width="1.4" height="1.4" fill="#222"/>
<rect x="509.6" y="189.44" width="1.4" height="1.4" fill="#222"/>
<rect x="482.0" y="193.30" width="2" height="0.6" fill="#9a5020" opacity="0.7"/>
<rect x="485.4" y="193.42" width="2" height="0.6" fill="#9a5020" opacity="0.7"/>
<rect x="488.8" y="193.54" width="2" height="0.6" fill="#9a5020" opacity="0.7"/>
<rect x="492.2" y="193.66" width="2" height="0.6" fill="#9a5020" opacity="0.7"/>
<rect x="495.6" y="193.78" width="2" height="0.6" fill="#9a5020" opacity="0.7"/>
<rect x="499.0" y="193.90" width="2" height="0.6" fill="#9a5020" opacity="0.7"/>
<rect x="502.4" y="194.02" width="2" height="0.6" fill="#9a5020" opacity="0.7"/>
<rect x="505.8" y="194.14" width="2" height="0.6" fill="#9a5020" opacity="0.7"/>
<rect x="509.2" y="194.26" width="2" height="0.6" fill="#9a5020" opacity="0.7"/>
<path d="M480,204 q3,-2 6,0 t6,0 t6,0 t6,0" fill="none" stroke="#c07898" stroke-width="0.8" opacity="0.7"/>
<polygon points="481.6,209 501,209.8 501,222.6 481.6,221.8" fill="#141414"/>
<circle cx="510.5" cy="206.5" r="1.3" fill="#1a1a1a"/>
<rect x="513" y="206.0" width="4" height="1" fill="#9a5020" opacity="0.6"/>
<circle cx="510.5" cy="214" r="1.3" fill="#1a1a1a"/>
<rect x="513" y="213.5" width="4" height="1" fill="#9a5020" opacity="0.6"/>
<circle cx="510.5" cy="220.4" r="1.3" fill="#1a1a1a"/>
<rect x="513" y="219.9" width="4" height="1" fill="#9a5020" opacity="0.6"/>
<circle cx="510.5" cy="227.3" r="1.3" fill="#1a1a1a"/>
<rect x="513" y="226.8" width="4" height="1" fill="#9a5020" opacity="0.6"/>
<rect x="404" y="222.5" width="44" height="1.5" fill="#6a3210" opacity="0.75"/>
<rect x="404" y="225.6" width="42" height="0.6" fill="#3a1a08" opacity="0.8"/>
<rect x="404" y="227.3" width="36" height="1.4" fill="#6a3210" opacity="0.75"/>
<rect x="533.8" y="189" width="18.0" height="20.6" rx="1.8" fill="#161616"/>
<circle cx="542.8" cy="199.3" r="6.5" fill="#262626"/>
<circle cx="542.8" cy="199.3" r="5.0" fill="#1e1e1e"/>
<rect x="538.8" y="196.3" width="2" height="2.5" fill="#5a5a5a"/><rect x="544.8" y="196.3" width="2" height="2.5" fill="#5a5a5a"/><rect x="541.8" y="200.8" width="2" height="2.5" fill="#5a5a5a"/>
<circle cx="535.3" cy="190.5" r="0.55" fill="#9a9a9a"/>
<circle cx="550.3" cy="190.5" r="0.55" fill="#9a9a9a"/>
<circle cx="535.3" cy="208.1" r="0.55" fill="#9a9a9a"/>
<circle cx="550.3" cy="208.1" r="0.55" fill="#9a9a9a"/>
<rect x="532.7" y="214.3" width="19.1" height="21.3" rx="1.8" fill="#161616"/>
<circle cx="542.2" cy="224.9" r="6.9" fill="#262626"/>
<circle cx="542.2" cy="224.9" r="5.3" fill="#1e1e1e"/>
<circle cx="539.5" cy="224.9" r="0.8" fill="#555"/><circle cx="545.0" cy="224.9" r="0.8" fill="#555"/>
<circle cx="534.2" cy="215.8" r="0.55" fill="#9a9a9a"/>
<circle cx="550.3" cy="215.8" r="0.55" fill="#9a9a9a"/>
<circle cx="534.2" cy="234.1" r="0.55" fill="#9a9a9a"/>
<circle cx="550.3" cy="234.1" r="0.55" fill="#9a9a9a"/>
<rect x="560" y="186.4" width="19.6" height="25.1" rx="1.8" fill="#161616"/>
<circle cx="569.8" cy="198.9" r="7.1" fill="#262626"/>
<circle cx="569.8" cy="198.9" r="5.5" fill="#1e1e1e"/>
<circle cx="567.0" cy="198.9" r="0.8" fill="#555"/><circle cx="572.6" cy="198.9" r="0.8" fill="#555"/>
<circle cx="561.5" cy="187.9" r="0.55" fill="#9a9a9a"/>
<circle cx="578.1" cy="187.9" r="0.55" fill="#9a9a9a"/>
<circle cx="561.5" cy="210.0" r="0.55" fill="#9a9a9a"/>
<circle cx="578.1" cy="210.0" r="0.55" fill="#9a9a9a"/>
<rect x="560" y="215.2" width="19.6" height="22.3" rx="1.8" fill="#161616"/>
<circle cx="569.8" cy="226.3" r="7.1" fill="#262626"/>
<circle cx="569.8" cy="226.3" r="5.5" fill="#1e1e1e"/>
<circle cx="567.0" cy="226.3" r="0.8" fill="#555"/><circle cx="572.6" cy="226.3" r="0.8" fill="#555"/>
<circle cx="561.5" cy="216.7" r="0.55" fill="#9a9a9a"/>
<circle cx="578.1" cy="216.7" r="0.55" fill="#9a9a9a"/>
<circle cx="561.5" cy="236.0" r="0.55" fill="#9a9a9a"/>
<circle cx="578.1" cy="236.0" r="0.55" fill="#9a9a9a"/>
<path d="M530.5,181 Q530,175 536,174.5 L545,174.5 Q549,175 549,180 L548,186.5 L533,187 Z" fill="#111"/>
<ellipse cx="614.5" cy="213" rx="2.2" ry="9" fill="#9aa0a6"/>
<ellipse cx="614.7" cy="213" rx="1.2" ry="7" fill="#556"/>
<rect x="617" y="201" width="4" height="14" fill="#c8ccd0"/>
<circle cx="621.5" cy="204.5" r="1.6" fill="#2a5ad0"/>
<rect x="620" y="218" width="3" height="4" fill="#dcdcdc"/>
<polygon points="378.9,525.7 470,480 607.4,521 490.9,580.6" fill="#ebebeb"/>
<path d="M390.3,521 L390.3,435.4 L440.6,406.9 L460.3,418 L460.3,347 L518,314.4 L558.4,335.5 L558.4,449.6 L591.4,432.5 L591.4,507 L584.5,511.2 L590.7,517.8 Q590,522.5 586,521.5 L576.4,515.7 L500.5,558 L506.4,563.2 Q507,569.5 503,569 L492.9,563.6 L485,567.5 Q482.1,568 482.1,564 L481.7,527 L440.6,549.7 Z" fill="#fff" stroke="#e2625c" stroke-width="3.2" stroke-linejoin="round"/>
<polygon points="462.0,349.5 494.0,367.0 494.0,527.0 462.0,509.5" fill="#dededf"/>
<polygon points="494.0,367.0 555.0,336.5 555.0,496.5 494.0,527.0" fill="#f3f3f3"/>
<polygon points="462.0,349.5 523.0,319.0 555.0,336.5 494.0,367.0" fill="#f8f8f8"/>
<line x1="494" y1="367" x2="494" y2="527" stroke="#c8c8c8" stroke-width="0.8"/>
<line x1="494" y1="418" x2="555" y2="387.5" stroke="#b4b4b4" stroke-width="1"/>
<line x1="495" y1="368" x2="555" y2="337.5" stroke="#c8c8c8" stroke-width="0.8"/>
<polygon points="506,377 515,372.5 515,377.5 506,382" fill="#9aa8a8"/>
<polygon points="543,395.5 552,391 552,393.5 543,398" fill="#b8b8b8"/>
<polygon points="392.6,437.7 439.4,464.0 439.4,546.0 392.6,519.7" fill="#e3e3e3"/>
<polygon points="439.4,464.0 487.4,436.6 487.4,518.6 439.4,546.0" fill="#f4f4f4"/>
<polygon points="392.6,437.7 440.6,410.3 487.4,436.6 439.4,464.0" fill="#f9f9f9"/>
<line x1="392.6" y1="457.7" x2="439.4" y2="484" stroke="#cfcfcf" stroke-width="0.8"/>
<line x1="439.4" y1="484" x2="487.4" y2="456.6" stroke="#d0d0d0" stroke-width="0.8"/>
<line x1="439.4" y1="464" x2="439.4" y2="546" stroke="#d6d6d6" stroke-width="0.8"/>
<polygon points="471.4,452 487,443.5 487,452.5 471.4,461" fill="#8e8e8e"/>
<circle cx="465" cy="461.5" r="4.3" fill="#979797"/>
<polygon points="444,474.5 458,467 458,469 444,476.5" fill="#9a9a9a"/>
<ellipse cx="468" cy="496" rx="18.5" ry="22" transform="rotate(-28 468 496)" fill="#dadada"/>
<ellipse cx="469.5" cy="496.5" rx="15" ry="18" transform="rotate(-28 469.5 496.5)" fill="#f2f2f2"/>
<ellipse cx="471.5" cy="498" rx="11.5" ry="14" transform="rotate(-28 471.5 498)" fill="#a0a0a0"/>
<path d="M476.5,489 Q481,497 477,505.5 Q473.5,509.5 468.5,509.5" fill="none" stroke="#f4f4f4" stroke-width="1.8"/>
<polygon points="493.5,560.5 500,557 505.5,565.5 503.5,567.5" fill="#2e3136"/>
<polygon points="577.5,513 584,509.5 589,518 587,519.5" fill="#2e3136"/>
<polygon points="483.6,493.8 588.5,436.2 590,507.5 483.6,565" fill="#3e4247"/>
<polygon points="485,494.6 588.5,437.5 589,507.5 485,563.5" fill="#4a4f55"/>
<polygon points="485,563.5 589,507.5 589,445 520,545" fill="#565b61"/></svg>
<div class="box" style="left:233.6px;top:120.2px;width:105.4px;height:20.1px;"></div>
<div class="box" style="left:405.7px;top:120.3px;width:204.3px;height:20.4px;"></div>
<div class="box" style="left:439px;top:286px;width:172.3px;height:20.3px;"></div>
<div class="box" style="left:234.2px;top:409.1px;width:75.4px;height:19.9px;"></div>
<div class="sq" style="left:71.4px;top:593.3px;width:6.9px;height:6.0px;"></div>
<div class="sq" style="left:71.4px;top:618.8px;width:6.9px;height:6.0px;"></div>
<div class="sq" style="left:71.4px;top:643.5px;width:6.9px;height:6.0px;"></div>
<div class="tx ti" style="left:34.10px;top:37.99px;font-size:33.8px;line-height:33.8px;color:#fff;transform:scaleX(1.0597);-webkit-text-stroke:1.3px #fff;word-spacing:-4px;">F<span class="sc" style="font-size:0.7em">or</span> O<span class="sc" style="font-size:0.7em">ff</span>-G<span class="sc" style="font-size:0.7em">rid</span> <span class="sc" style="font-size:0.7em">and</span> B<span class="sc" style="font-size:0.7em">ackup</span> P<span class="sc" style="font-size:0.7em">ower</span> S<span class="sc" style="font-size:0.7em">ystems</span></div>
<div class="tx" style="left:239.37px;top:123.13px;font-size:15.2px;line-height:15.2px;color:#f67d12;transform:scaleX(1.0596);-webkit-text-stroke:0.4px #f67d12;">S<span class="sc" style="font-size:0.77em">olar</span> P<span class="sc" style="font-size:0.77em">anel</span></div>
<div class="tx" style="left:411.29px;top:121.69px;font-size:18.8px;line-height:18.8px;color:#f67d12;transform:scaleX(1.0814);-webkit-text-stroke:0.4px #f67d12;">I<span class="sc" style="font-size:0.77em">nverter</span> W<span class="sc" style="font-size:0.77em">ith</span> MPPT</div>
<div class="tx" style="left:445.18px;top:288.50px;font-size:16.3px;line-height:16.3px;color:#f67d12;transform:scaleX(1.0196);-webkit-text-stroke:0.4px #f67d12;">E<span class="sc" style="font-size:0.76em">lectical</span> A<span class="sc" style="font-size:0.76em">ppliances</span></div>
<div class="tx" style="left:240.40px;top:411.06px;font-size:15.4px;line-height:15.4px;color:#f67d12;transform:scaleX(1.1778);-webkit-text-stroke:0.4px #f67d12;">B<span class="sc" style="font-size:0.73em">attery</span></div>
<div class="tx" style="left:89.59px;top:419.27px;font-size:9.6px;line-height:9.6px;color:#2b2b2b;transform:scaleX(0.9965);">Meter</div>
<div class="tx" style="left:141.19px;top:478.04px;font-size:9.4px;line-height:9.4px;color:#2b2b2b;transform:scaleX(1.0069);">Utility Grid</div>
<div class="tx bt" style="left:84.80px;top:583.02px;font-size:21.6px;line-height:21.6px;color:#111;transform:scaleX(0.9973);-webkit-text-stroke:1.0px #111;letter-spacing:0.9px;">Q<span class="sc" style="font-size:0.75em">ualified</span> <span class="sc" style="font-size:0.75em">for</span> DC <span class="sc" style="font-size:0.75em">coupled</span> <span class="sc" style="font-size:0.75em">off</span>-<span class="sc" style="font-size:0.75em">grid</span> <span class="sc" style="font-size:0.75em">solar</span> <span class="sc" style="font-size:0.75em">systems</span></div>
<div class="tx bt" style="left:84.78px;top:608.72px;font-size:21.6px;line-height:21.6px;color:#111;transform:scaleX(1.0532);-webkit-text-stroke:1.0px #111;letter-spacing:0.9px;">C<span class="sc" style="font-size:0.75em">ompatible</span> <span class="sc" style="font-size:0.75em">with</span> <span class="sc" style="font-size:0.75em">independent</span> <span class="sc" style="font-size:0.75em">charge</span> <span class="sc" style="font-size:0.75em">controllers</span></div>
<div class="tx bt" style="left:85.00px;top:634.12px;font-size:21.6px;line-height:21.6px;color:#111;transform:scaleX(0.9998);-webkit-text-stroke:1.0px #111;letter-spacing:0.9px;">K<span class="sc" style="font-size:0.75em">ey</span> <span class="sc" style="font-size:0.75em">component</span> <span class="sc" style="font-size:0.75em">for</span> B<span class="sc" style="font-size:0.75em">ackup</span> (UPS) <span class="sc" style="font-size:0.75em">and</span></div>
<div class="tx bt" style="left:85.01px;top:659.32px;font-size:21.6px;line-height:21.6px;color:#111;transform:scaleX(0.9931);-webkit-text-stroke:1.0px #111;letter-spacing:0.9px;"><span class="sc" style="font-size:0.75em">energy</span> <span class="sc" style="font-size:0.75em">storage</span> <span class="sc" style="font-size:0.75em">systems</span>(ESS)</div>
</body></html>
